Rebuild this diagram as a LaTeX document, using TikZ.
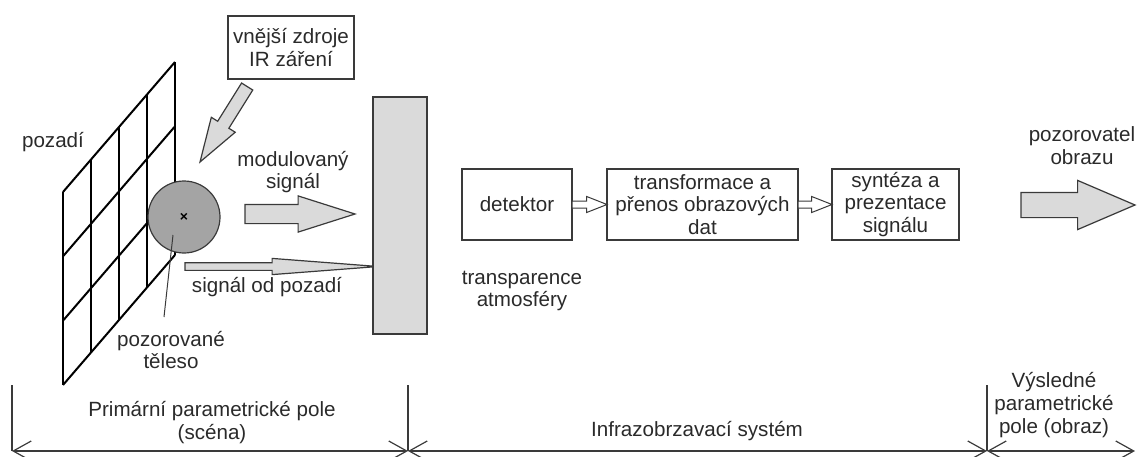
\documentclass[tikz,border=0pt]{standalone}
\usepackage{fontspec}
\setmainfont{Liberation Sans}
\usetikzlibrary{shapes.arrows,positioning,arrows.meta}
\definecolor{linegray}{HTML}{3A3A3A}
\definecolor{txtgray}{HTML}{2A2A2A}
\definecolor{arrowgray}{HTML}{DADADA}
\definecolor{bodygray}{HTML}{A4A4A4}

\tikzset{
  txt/.style={font=\fontsize{10.3}{11.4}\selectfont, text=txtgray, align=center, inner sep=0pt},
  blockbox/.style={txt, draw=linegray, line width=0.6pt, minimum height=35.5pt, outer sep=0pt},
  gridline/.style={line width=1pt, black},
  grayarrow/.style={single arrow, draw=linegray, fill=arrowgray, line width=0.6pt, inner xsep=0pt, outer sep=0pt},
  hollowarrow/.style={single arrow, draw=linegray, fill=white, line width=0.5pt, inner xsep=0pt, inner ysep=1.5pt,
    outer sep=0pt, single arrow head extend=2.25pt, single arrow tip angle=43, minimum height=17.5pt},
  dimline/.style={draw=linegray, line width=0.6pt},
  dimtip/.style={{Straight Barb[length=9pt,width=10pt]}-{Straight Barb[length=9pt,width=10pt]}}
}

\begin{document}
\begin{tikzpicture}[x=0.5pt,y=-0.5pt]
\useasboundingbox (0,0) rectangle (1137,456);

% background grid (pozadi)
\foreach \c in {0,...,4}
  \draw[gridline] (63+28*\c,192-32.5*\c) -- ++(0,193);
\foreach \r in {0,...,3}
  \draw[gridline] (63,192+64.33*\r) -- (175,62+64.33*\r);
\node[txt] (bglbl) at (53,142) {pozadí};

% observed body
\node[circle, draw=linegray, fill=bodygray, line width=0.6pt, minimum size=36pt, inner sep=0pt] (body) at (184,217) {};
\node[font=\fontsize{7}{7}\selectfont\bfseries, inner sep=0pt] (mark) at (body.center) {×};
\node[txt] (bodylbl) at (171,350) {pozorované\\těleso};
\coordinate (bodyin) at (173,235);
\coordinate (bodyend) at (164,317);
\draw[linegray, line width=0.5pt] (bodyin) -- (bodyend);

% external sources
\node[blockbox, minimum width=63pt, minimum height=31.5pt] (src) at (291,47.5) {vnější zdroje\\IR záření};
\node[grayarrow, inner ysep=3pt, single arrow head extend=3.75pt, single arrow tip angle=35.6,
  minimum height=44.5pt, rotate=238, anchor=tip] (srcarrow) at (200,162) {};

% signals
\node[txt] (modlbl) at (293,172) {modulovaný\\signál};
\node[grayarrow, inner ysep=4.5pt, single arrow head extend=4.25pt, single arrow tip angle=35.3,
  minimum height=55pt, anchor=tip] (modarrow) at (355,214) {};
\node[grayarrow, inner ysep=1.625pt, single arrow head extend=2.125pt, single arrow tip angle=8.75,
  minimum height=96.5pt, anchor=tip] (bgarrow) at (378,266.5) {};
\node[txt] (bgsiglbl) at (267,287) {signál od pozadí};

% atmosphere
\node[draw=linegray, fill=arrowgray, line width=0.6pt, minimum width=27pt, minimum height=118.5pt, inner sep=0pt] (atmo) at (400,215.5) {};
\node[txt] (atmolbl) at (522,291) {transparence\\atmosféry};

% imaging chain
\node[blockbox, minimum width=55pt] (det) at (517,204.5) {detektor};
\node[hollowarrow, right=0pt of det] (a1) {};
\node[blockbox, minimum width=95.5pt, right=0pt of a1] (trans) {transformace a\\přenos obrazových\\dat};
\node[hollowarrow, minimum height=17pt, right=0pt of trans] (a2) {};
\node[blockbox, minimum width=63.5pt, right=0pt of a2] (synth) {syntéza a\\prezentace\\signálu};

% observer
\node[txt] (obslbl) at (1082,146) {pozorovatel\\obrazu};
\node[grayarrow, inner ysep=6pt, single arrow head extend=6pt, single arrow tip angle=46.4,
  minimum height=57pt, anchor=tip] (obsarrow) at (1135,205) {};

% dimension line
\coordinate (dimL) at (12,451);
\coordinate (dimA) at (408,451);
\coordinate (dimB) at (987,451);
\coordinate (dimR) at (1135,451);
\foreach \x/\n in {12/L,408/A,987/B}
  \draw[dimline] (\x,385) -- (dim\n);
\draw[dimline, dimtip] (dimL) -- (dimA);
\draw[dimline, dimtip] (dimA) -- (dimB);
\draw[dimline, dimtip] (dimB) -- (dimR);
\node[txt] (scenelbl) at (212,422.5) {Primární parametrické pole\\(scéna)};
\node[txt] (syslbl) at (697,431) {Infrazobrzavací systém};
\node[txt] (imglbl) at (1054,405) {Výsledné\\parametrické\\pole (obraz)};
\end{tikzpicture}
\end{document}
